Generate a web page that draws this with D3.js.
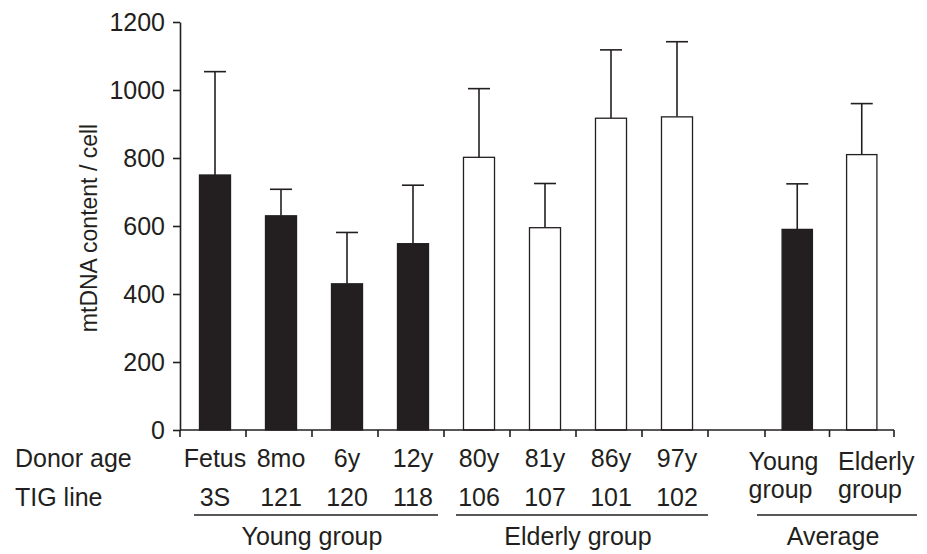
<!DOCTYPE html>
<html>
<head>
<meta charset="utf-8">
<script src="https://cdn.jsdelivr.net/npm/d3@7"></script>
<style>
  body { margin: 0; background: #fff; }
  text { font-family: "Liberation Sans", Arial, Helvetica, sans-serif; fill: #231f20; }
</style>
</head>
<body>
<div id="chart"></div>
<script>
// values
var donorAges = ["Fetus", "8mo", "6y", "12y", "80y", "81y", "86y", "97y"];
var tigLines  = ["3S", "121", "120", "118", "106", "107", "101", "102"];
var lineGroup = ["Young group", "Young group", "Young group", "Young group",
                 "Elderly group", "Elderly group", "Elderly group", "Elderly group"];
var mtdna     = [750, 630, 430, 548, 802, 595, 917, 921];
var mtdnaErr  = [304, 78, 151, 172, 202, 130, 201, 221];

var avgNames  = ["Young group", "Elderly group"];
var avgMtdna  = [590, 810];
var avgErr    = [134, 150];

var groupLabels = ["Young group", "Elderly group", "Average"];
var yTicks = [0, 200, 400, 600, 800, 1000, 1200];

var width = 927, height = 554;
var ink = "#231f20";
var fs = "25px";

var svg = d3.select("#chart")
  .append("svg")
    .attr("width", width)
    .attr("height", height);

// scales
var y = d3.scaleLinear().domain([0, 1200]).range([430, 22]);

var x = d3.scaleBand()
  .domain(tigLines)
  .range([180, 708])
  .paddingInner(0.53)
  .paddingOuter(0.265);

var xAvg = d3.scaleBand()
  .domain(avgNames)
  .range([765, 894])
  .paddingInner(0.53)
  .paddingOuter(0.265);

// one row per bar
var rows = tigLines.map(function(l, i) {
  return {
    key: l, mean: mtdna[i], err: mtdnaErr[i],
    young: lineGroup[i] == "Young group",
    x0: x(l) + 2, w: x.bandwidth()
  };
});
avgNames.forEach(function(n, i) {
  rows.push({
    key: n, mean: avgMtdna[i], err: avgErr[i],
    young: n == "Young group",
    x0: xAvg(n), w: xAvg.bandwidth()
  });
});

// error bars (upper only)
var eb = svg.append("g").attr("stroke", ink).attr("stroke-width", 1.6);
eb.selectAll("line.v")
  .data(rows).enter().append("line")
    .attr("class", "v")
    .attr("x1", function(d) { return d.x0 + d.w / 2; })
    .attr("x2", function(d) { return d.x0 + d.w / 2; })
    .attr("y1", function(d) { return y(d.mean); })
    .attr("y2", function(d) { return y(d.mean + d.err); });
eb.selectAll("line.cap")
  .data(rows).enter().append("line")
    .attr("class", "cap")
    .attr("x1", function(d) { return d.x0 + d.w / 2 - 11; })
    .attr("x2", function(d) { return d.x0 + d.w / 2 + 11; })
    .attr("y1", function(d) { return y(d.mean + d.err); })
    .attr("y2", function(d) { return y(d.mean + d.err); });

// bars
svg.append("g")
  .selectAll("rect")
  .data(rows).enter().append("rect")
    .attr("x", function(d) { return d.x0; })
    .attr("width", function(d) { return d.w; })
    .attr("y", function(d) { return y(d.mean); })
    .attr("height", function(d) { return y(0) - y(d.mean); })
    .attr("fill", function(d) { return d.young ? ink : "#fff"; })
    .attr("stroke", ink)
    .attr("stroke-width", 1.3);

// y axis
var yAxis = svg.append("g")
  .attr("transform", "translate(180,0)")
  .call(d3.axisLeft(y).tickValues(yTicks).tickFormat(d3.format("d"))
    .tickSize(7).tickSizeOuter(0).tickPadding(8));
yAxis.select(".domain").attr("stroke", ink).attr("stroke-width", 1.6);
yAxis.selectAll(".tick line").attr("stroke", ink).attr("stroke-width", 1.6);
yAxis.selectAll(".tick text")
  .attr("font-size", fs)
  .attr("font-family", null)
  .attr("fill", ink);

// x axis: baseline plus ticks on slot boundaries
var bounds = x.domain().map(function(d) { return x(d) - x.step() * x.paddingOuter(); })
  .concat([x.range()[1]])
  .concat(xAvg.domain().map(function(d) { return xAvg(d) - xAvg.step() * xAvg.paddingOuter(); }))
  .concat([xAvg.range()[1]]);

var xAxis = svg.append("g").attr("stroke", ink).attr("stroke-width", 1.6);
xAxis.append("line")
  .attr("x1", 180).attr("x2", xAvg.range()[1])
  .attr("y1", y(0)).attr("y2", y(0));
xAxis.selectAll("line.tick")
  .data(bounds).enter().append("line")
    .attr("class", "tick")
    .attr("x1", function(d) { return d; })
    .attr("x2", function(d) { return d; })
    .attr("y1", y(0))
    .attr("y2", y(0) + 7);

// y label
svg.append("text")
  .attr("transform", "translate(97,228) rotate(-90)")
  .attr("text-anchor", "middle")
  .attr("font-size", "23px")
  .text("mtDNA content / cell");

// row headers
svg.append("text").attr("x", 15).attr("y", 467).attr("font-size", fs).text("Donor age");
svg.append("text").attr("x", 15).attr("y", 506).attr("font-size", fs).text("TIG line");

// per-bar labels
svg.append("g").selectAll("text")
  .data(donorAges).enter().append("text")
    .attr("x", function(d, i) { return x(tigLines[i]) + 2 + x.bandwidth() / 2; })
    .attr("y", 467)
    .attr("text-anchor", "middle")
    .attr("font-size", fs)
    .text(function(d) { return d; });

svg.append("g").selectAll("text")
  .data(tigLines).enter().append("text")
    .attr("x", function(d) { return x(d) + 2 + x.bandwidth() / 2; })
    .attr("y", 506)
    .attr("text-anchor", "middle")
    .attr("font-size", fs)
    .text(function(d) { return d; });

// average labels, two lines each
var avgMid = xAvg("Elderly group") - xAvg.step() * xAvg.paddingOuter();
svg.append("g").selectAll("text")
  .data(avgNames).enter().append("text")
    .attr("x", function(d, i) { return i == 0 ? avgMid - 81 : avgMid + 8.5; })
    .attr("y", 470)
    .attr("font-size", fs)
    .each(function(d) {
      var parts = d.split(" ");
      var t = d3.select(this);
      var x0 = t.attr("x");
      t.append("tspan").attr("x", x0).attr("dy", 0).text(parts[0]);
      t.append("tspan").attr("x", x0).attr("dy", 28).text(parts[1]);
    });

// group underlines and names
var spans = [
  [bounds[0] + 14, bounds[4] - 6],
  [bounds[4] + 12, bounds[8]],
  [bounds[9] - 8, bounds[11] + 23]
];
var grp = svg.append("g");
grp.selectAll("line")
  .data(groupLabels).enter().append("line")
    .attr("x1", function(d, i) { return spans[i][0]; })
    .attr("x2", function(d, i) { return spans[i][1]; })
    .attr("y1", 515).attr("y2", 515)
    .attr("stroke", ink)
    .attr("stroke-width", 1.3);
grp.selectAll("text")
  .data(groupLabels).enter().append("text")
    .attr("x", function(d, i) { return (spans[i][0] + spans[i][1]) / 2 - 4; })
    .attr("y", 545)
    .attr("text-anchor", "middle")
    .attr("font-size", fs)
    .text(function(d) { return d; });
</script>
</body>
</html>
